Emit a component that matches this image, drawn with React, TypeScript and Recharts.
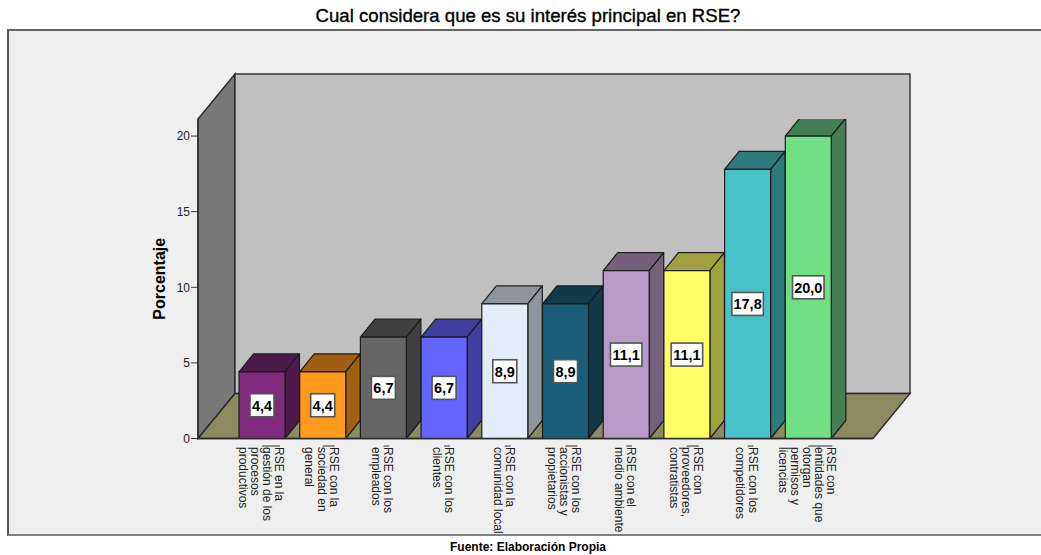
import { Bar, BarChart, Customized, LabelList, XAxis, YAxis } from 'recharts'

const categories = [
  'RSE en la\ngestión de los\nprocesos\nproductivos',
  'RSE con la\nsociedad en\ngeneral',
  'RSE con los\nempleados',
  'RSE con los\nclientes',
  'RSE con la\ncomunidad local',
  'RSE con los\naccionistas y\npropietarios',
  'RSE con el\nmedio ambiente',
  'RSE con\nproveedores,\ncontratistas',
  'RSE con los\ncompetidores',
  'RSE con\nentidades que\notorgan\npermisos y\nlicencias',
]
const percentages = [4.4, 4.4, 6.7, 6.7, 8.9, 8.9, 11.1, 11.1, 17.8, 20.0]
const yTicks = [0, 5, 10, 15, 20]

const frontColors = ['#7f2a7c', '#ff9a1c', '#666666', '#6464ff', '#e4eefa', '#1a5d78', '#b89ac8', '#ffff66', '#48c3c8', '#70df85']
const sideColors = ['#4e1a4c', '#a05f12', '#404040', '#3f3fa0', '#8f959d', '#10394b', '#73607d', '#a0a040', '#2d7a7d', '#467d53']

const data = categories.map((name, i) => ({ name, value: percentages[i] }))

// plot box of the front plane, the 3d walls hang off it
const LEFT = 198
const RIGHT = 873
const TOP = 119
const BOTTOM = 438.5
const WALL_DX = 37
const WALL_DY = 45
const BAR_DX = 14.5
const BAR_DY = 18
const EDGE = '#2b2b2b'

function Walls() {
  return (
    <g>
      <polygon
        points={`${LEFT},${TOP} ${LEFT + WALL_DX},${TOP - WALL_DY} ${LEFT + WALL_DX},${BOTTOM - WALL_DY} ${LEFT},${BOTTOM}`}
        fill="#787878"
        stroke={EDGE}
        strokeWidth={1.4}
      />
      <rect
        x={LEFT + WALL_DX}
        y={TOP - WALL_DY}
        width={RIGHT - LEFT}
        height={BOTTOM - TOP}
        fill="#c0c0c0"
        stroke={EDGE}
        strokeWidth={1.4}
      />
      <polygon
        points={`${LEFT},${BOTTOM} ${LEFT + WALL_DX},${BOTTOM - WALL_DY} ${RIGHT + WALL_DX},${BOTTOM - WALL_DY} ${RIGHT},${BOTTOM}`}
        fill="#8c8a60"
        stroke={EDGE}
        strokeWidth={1.4}
      />
    </g>
  )
}

function Bar3D(props: any) {
  const { x, y, width, height, index } = props
  const side = sideColors[index]
  return (
    <g stroke="#1c1c1c" strokeWidth={1.2} strokeLinejoin="round">
      <polygon
        points={`${x},${y} ${x + BAR_DX},${y - BAR_DY} ${x + width + BAR_DX},${y - BAR_DY} ${x + width},${y}`}
        fill={side}
      />
      <polygon
        points={`${x + width},${y} ${x + width + BAR_DX},${y - BAR_DY} ${x + width + BAR_DX},${y + height - BAR_DY} ${x + width},${y + height}`}
        fill={side}
      />
      <rect x={x} y={y} width={width} height={height} fill={frontColors[index]} />
    </g>
  )
}

function ValueBox(props: any) {
  const { x, y, width, height, value } = props
  const text = Number(value).toFixed(1).replace('.', ',')
  const boxW = text.length > 3 ? 31.5 : 24
  const cx = x + width / 2
  const cy = y + height / 2
  return (
    <g>
      <rect x={cx - boxW / 2} y={cy - 11.5} width={boxW} height={23} fill="#ffffff" stroke="#555555" strokeWidth={1.6} />
      <text
        x={cx}
        y={cy + 5.5}
        textAnchor="middle"
        fontFamily="Liberation Sans, Arial, sans-serif"
        fontWeight={700}
        fontSize={14.5}
        fill="#000000"
      >
        {text}
      </text>
    </g>
  )
}

function CategoryTick(props: any) {
  const { x, y, payload } = props
  const lines: string[] = String(payload.value).split('\n')
  const lineGap = 12.1
  const startX = x + ((lines.length - 1) / 2) * lineGap - 1.5
  const textTop = BOTTOM + 8.5
  return (
    <g>
      <path d={`M${x},${y} V${BOTTOM + 7.5} H${startX + 1}`} fill="none" stroke="#333333" strokeWidth={1} />
      {lines.map((line, i) => {
        const lx = startX - i * lineGap
        return (
          <text
            key={i}
            x={lx}
            y={textTop}
            transform={`rotate(90 ${lx} ${textTop})`}
            dy={4}
            fontFamily="Liberation Sans, Arial, sans-serif"
            fontSize={12}
            fill="#222222"
          >
            {line}
          </text>
        )
      })}
    </g>
  )
}

export default function App() {
  return (
    <div style={{ position: 'absolute', left: 0, top: 0, width: 1041, height: 555, background: '#ffffff', overflow: 'hidden' }}>
      <div
        style={{
          position: 'absolute',
          left: 7,
          top: 29,
          width: 1034,
          height: 503,
          background: '#efefef',
          borderTop: '2px solid #666666',
          borderLeft: '2px solid #555555',
          borderBottom: '2px solid #808080',
        }}
      />
      <div
        style={{
          position: 'absolute',
          left: 0,
          top: 5,
          width: 1056,
          textAlign: 'center',
          fontFamily: 'Liberation Sans, Arial, sans-serif',
          fontSize: 18.6,
          fontWeight: 400,
          whiteSpace: 'nowrap',
          WebkitTextStroke: '0.35px #000000',
          color: '#000000',
        }}
      >
        Cual considera que es su interés principal en RSE?
      </div>
      <div
        style={{
          position: 'absolute',
          left: 0,
          top: 540,
          width: 1056,
          textAlign: 'center',
          fontFamily: 'Liberation Sans, Arial, sans-serif',
          fontSize: 12,
          fontWeight: 700,
          color: '#000000',
        }}
      >
        Fuente: Elaboración Propia
      </div>
      <div style={{ position: 'absolute', left: 0, top: 0 }}>
        <BarChart
          width={1041}
          height={555}
          data={data}
          margin={{ left: 0, right: 1041 - RIGHT, top: TOP, bottom: 0 }}
          style={{ background: 'transparent' }}
        >
          <Customized component={Walls} />
          <XAxis
            dataKey="name"
            interval={0}
            padding={{ left: 34, right: 34 }}
            tick={<CategoryTick />}
            tickLine={false}
            axisLine={{ stroke: EDGE, strokeWidth: 1.4 }}
            height={555 - BOTTOM}
          />
          <YAxis
            domain={[0, 21.13]}
            ticks={yTicks}
            allowDataOverflow
            width={LEFT}
            tick={{ fontSize: 12, fill: '#222222', fontFamily: 'Liberation Sans, Arial, sans-serif' }}
            tickLine={{ stroke: '#333333' }}
            tickSize={7}
            tickMargin={1}
            axisLine={{ stroke: EDGE, strokeWidth: 1.4 }}
            label={{
              value: 'Porcentaje',
              angle: -90,
              position: 'insideRight',
              offset: 39,
              style: { fontSize: 16, fontWeight: 700, fill: '#000000', fontFamily: 'Liberation Sans, Arial, sans-serif', textAnchor: 'middle' },
            }}
          />
          <Bar dataKey="value" barSize={46} shape={<Bar3D />} isAnimationActive={false}>
            <LabelList dataKey="value" content={<ValueBox />} />
          </Bar>
        </BarChart>
      </div>
    </div>
  )
}
